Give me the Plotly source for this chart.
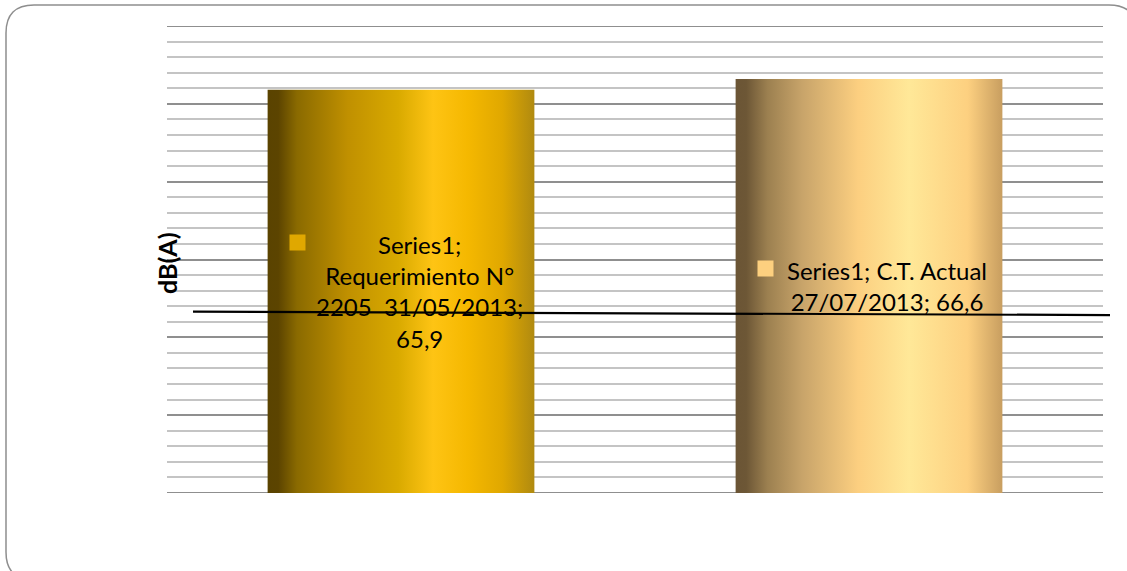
import textwrap
import plotly.graph_objects as go

# ---- data ----
series_name = "Series1"
categories = ["Requerimiento N° 2205\u00a0 31/05/2013", "C.T. Actual 27/07/2013"]
values = [65.9, 66.6]
label_wrap = [17, 20]
y_title = "dB(A)"
y_range = [40, 70]
ref_line_y = [51.65, 51.43]   # hand-drawn reference line (left, right)

bar_scales = [
    [[0.0, "#5a4300"], [0.04, "#5c4400"], [0.11, "#8a6a00"], [0.30, "#c09000"],
     [0.49, "#d9aa00"], [0.62, "#fec414"], [0.75, "#f5b800"], [0.88, "#e0a800"],
     [1.0, "#b08a10"]],
    [[0.0, "#6b5535"], [0.04, "#6d5736"], [0.12, "#9c8050"], [0.25, "#c8a46a"],
     [0.46, "#fccf80"], [0.65, "#ffe898"], [0.87, "#fdd080"], [1.0, "#c89e60"]],
]
key_colors = ["#e0a800", "#fdd07f"]

W, H = 1127, 571
ml, mr, mt, mb = 167, 24, 26, 78
pw, ph = W - ml - mr, H - mt - mb

bar_w = 0.57
fig = go.Figure()
for i, (cat, v) in enumerate(zip(categories, values)):
    x0, x1 = i - bar_w / 2, i + bar_w / 2
    b = y_range[0]
    fig.add_trace(go.Scatter(
        x=[x0, x1, x1, x0, x0], y=[b, b, v, v, b],
        mode="lines", line=dict(width=0), fill="toself",
        fillgradient=dict(type="horizontal", colorscale=bar_scales[i]),
        hoverinfo="skip", showlegend=False,
    ))

font_fam = "Lato, Open Sans, sans-serif"
fsize = 24
line_h = 31
annotations = []
for i, (cat, v) in enumerate(zip(categories, values)):
    vs = f"{v:.1f}".replace(".", ",")
    full = f"{series_name}; {cat}; {vs}"
    lines = textwrap.wrap(full, label_wrap[i])
    mid = (y_range[0] + v) / 2
    annotations.append(dict(
        x=i, y=mid, xref="x", yref="y", text="<br>".join(lines),
        showarrow=False, xshift=18, align="center",
        font=dict(family=font_fam, size=fsize, color="#000000"),
    ))
    n = len(lines)
    annotations.append(dict(
        x=i, y=mid, xref="x", yref="y", text=" ", showarrow=False,
        width=15, height=15, bgcolor=key_colors[i], borderpad=0,
        xshift=-104, yshift=(n - 1) / 2 * line_h + 2,
        font=dict(size=4),
    ))

annotations.append(dict(
    x=(150 - ml) / pw, y=(mt + ph - 263) / ph, xref="paper", yref="paper",
    text=f"<b>{y_title}</b>", textangle=-90, showarrow=False,
    font=dict(family=font_fam, size=25, color="#000000"),
))

def px2paper(px, py):
    return (px - ml) / pw, (mt + ph - py) / ph

# rounded chart border
L, T, R, B, r = 6, 5, 1137, 580, 28
def P(px, py):
    x, y = px2paper(px, py)
    return f"{x:.5f},{y:.5f}"
path = (f"M {P(L + r, T)} L {P(R - r, T)} Q {P(R, T)} {P(R, T + r)} "
        f"L {P(R, B - r)} Q {P(R, B)} {P(R - r, B)} L {P(L + r, B)} "
        f"Q {P(L, B)} {P(L, B - r)} L {P(L, T + r)} Q {P(L, T)} {P(L + r, T)} Z")

shapes = [
    dict(type="path", path=path, xref="paper", yref="paper",
         line=dict(color="#8e8e8e", width=1.5), layer="below"),
]
# major gridlines at the range edges (plotly skips those)
for yv in y_range:
    shapes.append(dict(type="line", xref="paper", yref="y", x0=0, x1=1,
                       y0=yv, y1=yv, line=dict(color="#8f8f8f", width=2),
                       layer="below"))
shapes.append(dict(type="line", xref="paper", yref="y",
                   x0=(193 - ml) / pw, x1=(1110 - ml) / pw,
                   y0=ref_line_y[0], y1=ref_line_y[1],
                   line=dict(color="#000000", width=2.2), layer="above"))

fig.update_layout(
    width=W, height=H, autosize=False,
    margin=dict(l=ml, r=mr, t=mt, b=mb),
    paper_bgcolor="white", plot_bgcolor="white",
    showlegend=False,
    annotations=annotations, shapes=shapes,
    xaxis=dict(range=[-0.5, 1.5], showgrid=False, zeroline=False,
               showticklabels=False, ticks="", fixedrange=True),
    yaxis=dict(range=y_range, dtick=5, tick0=40,
               showgrid=True, gridcolor="#8f8f8f", gridwidth=2, zeroline=False,
               showticklabels=False, ticks="", fixedrange=True,
               minor=dict(dtick=1, showgrid=True, gridcolor="#c4c4c4", gridwidth=2)),
)

fig.write_html("out.html", config={"displayModeBar": False},
               post_script="document.body.style.margin='0';")
